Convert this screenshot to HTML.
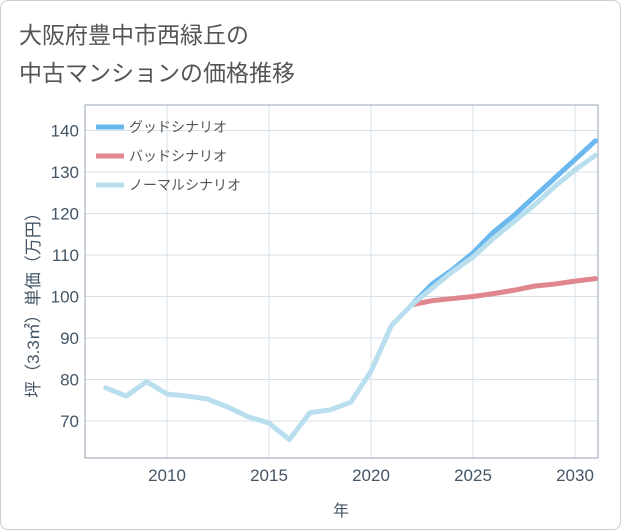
<!DOCTYPE html>
<html><head><meta charset="utf-8"><style>
body{margin:0;background:#fff;font-family:"Liberation Sans","Noto Sans CJK JP",sans-serif;}
#wrap{position:relative;width:619px;height:528px;border:1px solid #ccc;border-radius:8px;overflow:hidden;background:#fff;}
</style></head><body>
<div id="wrap">
<svg id="c" width="621" height="530"></svg>
</div>
<script>
const years=[2007,2008,2009,2010,2011,2012,2013,2014,2015,2016,2017,2018,2019,2020,2021,2022];
const hist=[78,76,79.5,76.5,76,75.3,73.3,71,69.5,65.5,72,72.7,74.5,82,93,98];
const futYears=[2022,2023,2024,2025,2026,2027,2028,2029,2030,2031];
const good=[98,103,106.5,110.5,115.5,119.5,124,128.5,133,137.5];
const bad=[98,99,99.5,100,100.7,101.5,102.5,103,103.7,104.3];
const normal=[98,102,106,109.5,114,118,122,126.5,130.5,134];
const xTicks=[2010,2015,2020,2025,2030];
const yTicks=[70,80,90,100,110,120,130,140];
const NS='http://www.w3.org/2000/svg';
const svg=document.getElementById('c');
const L=84,R=597,T=104,B=457;
const x=v=>166+(v-2010)*20.4;
const y=v=>420-(v-70)*4.15;
function el(t,a,p){const e=document.createElementNS(NS,t);for(const k in a)e.setAttribute(k,a[k]);(p||svg).appendChild(e);return e;}
function txt(s,a){const e=el('text',a);e.textContent=s;return e;}
const t1=txt('大阪府豊中市西緑丘の',{x:18,y:42,'font-size':23,fill:'#555'});

const t2=txt('中古マンションの価格推移',{x:18,y:80,'font-size':23,fill:'#555'});

xTicks.forEach(v=>{const g=el('line',{x1:x(v),x2:x(v),y1:T,y2:B,stroke:'#d5e0ea','stroke-width':1});

const l=txt(v,{x:x(v),y:480,'font-size':17,fill:'#445566','text-anchor':'middle'});
});
yTicks.forEach(v=>{const g=el('line',{x1:L,x2:R,y1:y(v),y2:y(v),stroke:'#d5e0ea','stroke-width':1});

const l=txt(v,{x:78,y:y(v)+6,'font-size':17,fill:'#445566','text-anchor':'end'});
});
const ax=el('rect',{x:L,y:T,width:R-L,height:B-T,fill:'none',stroke:'#9aa6b3','stroke-width':1});

const xt=txt('年',{x:340,y:515,'font-size':16,fill:'#445566','text-anchor':'middle'});

const yt=txt('坪（3.3㎡）単価（万円）',{x:0,y:0,'font-size':17,fill:'#445566','text-anchor':'middle',transform:'translate(38,300) rotate(-90)'});

const clip=el('clipPath',{id:'cp'});el('rect',{x:L,y:T,width:R-L,height:B-T},clip);
const g0=el('g',{'clip-path':'url(#cp)'});
function line2(xs,ys,col,name){const p=el('polyline',{points:xs.map((v,i)=>x(v)+','+y(ys[i])).join(' '),fill:'none',stroke:col,'stroke-width':5,'stroke-linejoin':'round','stroke-linecap':'round'},g0);
}
line2(futYears,good,'#6bb8ef','good-scenario-line');
line2(futYears,bad,'#e0868e','bad-scenario-line');
line2(futYears,normal,'#b9dfee','normal-scenario-line');
line2(years,hist,'#b9dfee','history-line');
const leg=[['グッドシナリオ','#6bb8ef'],['バッドシナリオ','#e0868e'],['ノーマルシナリオ','#b9dfee']];
leg.forEach((d,i)=>{const yy=126+i*29;
const s=el('line',{x1:95,x2:123,y1:yy,y2:yy,stroke:d[1],'stroke-width':5});

const l=txt(d[0],{x:128,y:yy+5,'font-size':14,fill:'#555'});
});
</script>
</body></html>
